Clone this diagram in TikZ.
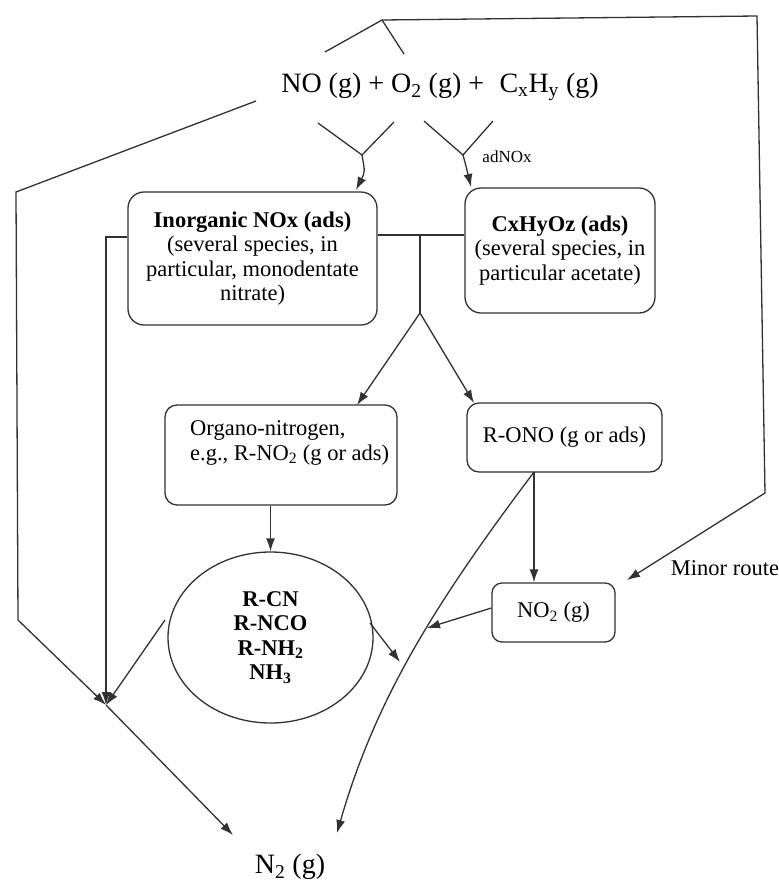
\documentclass[tikz,border=0pt]{standalone}
\usepackage{fontspec}
\setmainfont{Liberation Serif}
\usetikzlibrary{arrows.meta,shapes.geometric}
\definecolor{lc}{RGB}{50,50,50}
\newcommand\bigfont{\fontsize{28}{30}\selectfont}
\newcommand\boxfont{\fontsize{22.5}{24.5}\selectfont}
\newcommand\smallfont{\fontsize{17}{19}\selectfont}
\begin{document}
\begin{tikzpicture}[x=1pt,y=-1pt,
  ln/.style={draw=lc,line width=1.3pt},
  arr/.style={ln,-{Latex[length=13pt,width=9pt]}},
  box/.style={draw=lc,line width=1.3pt,rounded corners=16pt,inner sep=0pt,align=center,font=\boxfont}]
\useasboundingbox[fill=white] (0,0) rectangle (779,884);

% species
\node[font=\bigfont,inner sep=1pt] (top) at (440,87) {NO (g) + O\textsubscript{2} (g) +\hspace{0.3em} C\textsubscript{x}H\textsubscript{y} (g)};
\node[box,minimum width=249pt,minimum height=133pt] (inorg) at (252.5,258.5)
  {\textbf{Inorganic NOx (ads)}\\(several species, in\\particular, monodentate\\nitrate)};
\node[box,minimum width=190pt,minimum height=125pt] (cx) at (560,250.5)
  {\textbf{CxHyOz (ads)}\\(several species, in\\particular acetate)};
\node[box,rounded corners=12pt,minimum width=232pt,minimum height=100pt] (organo) at (281,455) {};
\node[font=\boxfont,align=left,anchor=west,inner sep=0pt] (orgtxt) at (190,443)
  {Organo-nitrogen,\\e.g., R-NO\textsubscript{2} (g or ads)};
\node[box,rounded corners=12pt,minimum width=195pt,minimum height=69pt] (rono) at (564.5,437.5) {R-ONO (g or ads)};
\node[box,rounded corners=10pt,minimum width=123pt,minimum height=59pt] (no2) at (553.5,612.5) {NO\textsubscript{2} (g)};
\node[draw=lc,line width=1.3pt,ellipse,minimum width=205pt,minimum height=171pt,inner sep=0pt,
  align=center,font=\boxfont\bfseries] (circ) at (270.5,637.5)
  {R-CN\\R-NCO\\R-NH\textsubscript{2}\\NH\textsubscript{3}};
\node[font=\bigfont] (n2) at (290,867) {N\textsubscript{2} (g)};
\node[font=\smallfont] (adnox) at (507,157) {adNOx};
\node[font=\boxfont] (minor) at (725,568) {Minor route};

% junction points
\coordinate (apex) at (382,20);
\coordinate (al) at (325,52);
\coordinate (ar) at (404,54);
\coordinate (tr) at (757,16);
\coordinate (br) at (765,493);
\coordinate (mtip) at (627,580);
\coordinate (lstart) at (256,101);
\coordinate (lc1) at (16,192);
\coordinate (lc2) at (18,620);
\coordinate (M) at (106,705);
\coordinate (ls) at (106,237);
\coordinate (cl) at (165,620);
\coordinate (n2l) at (233,835);
\coordinate (ya) at (318,123);
\coordinate (yb) at (394,122);
\coordinate (yj) at (362,155);
\coordinate (yt) at (356,190);
\coordinate (yc) at (424,121);
\coordinate (yd) at (493,121);
\coordinate (yk) at (463,155);
\coordinate (yu) at (471,187);
\coordinate (hj) at (420,235);
\coordinate (fk) at (420,313);
\coordinate (fl) at (357,405);
\coordinate (fr) at (474,403);
\coordinate (rb) at (534,472);
\coordinate (c2) at (337,833);
\coordinate (cr) at (370,623);
\coordinate (crt) at (400,662);
\coordinate (nh) at (0,608);
\coordinate (nt) at (427,628);

% minor route over the top
\draw[ln] (al) -- (apex) -- (ar);
\draw[arr] (apex) -- (tr) -- (br) -- (mtip);

% direct route down the left side
\draw[arr] (lstart) -- (lc1) -- (lc2) -- (M);
\draw[arr] (inorg.west |- ls) -- (ls) -- (M);
\draw[arr] (cl) -- (M);
\draw[arr] (M) -- (n2l);

% adsorption
\draw[ln] (ya) -- (yj) -- (yb);
\draw[arr] (yj) .. controls (365,172) .. (yt);
\draw[ln] (yc) -- (yk) -- (yd);
\draw[arr] (yk) .. controls (467,170) .. (yu);

% surface reaction
\draw[ln] (inorg.east |- hj) -- (cx.west |- hj);
\draw[ln] (hj) -- (fk);
\draw[arr] (fk) -- (fl);
\draw[arr] (fk) -- (fr);
\draw[arr] (organo.south -| circ.north) -- (circ.north);
\draw[arr] (rb) -- (no2.north -| rb);
\draw[arr] (rb) .. controls (437,601) and (376,697) .. (c2);
\draw[arr] (cr) -- (crt);
\draw[arr] (no2.west |- nh) -- (nt);
\end{tikzpicture}
\end{document}
